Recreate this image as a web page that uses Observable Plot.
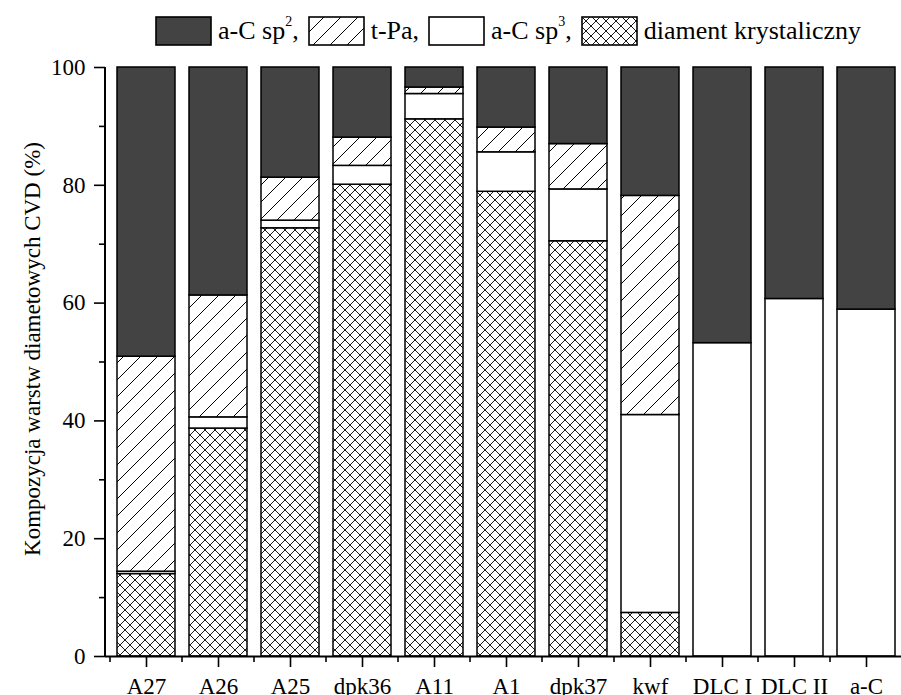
<!DOCTYPE html>
<html>
<head>
<meta charset="utf-8">
<script src="https://cdn.jsdelivr.net/npm/d3@7"></script>
<script src="https://cdn.jsdelivr.net/npm/@observablehq/plot@0.6"></script>
<style>
  html, body { margin: 0; padding: 0; background: #fff; overflow: hidden; }
  body { width: 901px; height: 695px; font-family: "Liberation Serif", "Times New Roman", serif; }
  #legend { height: 55px; display: flex; align-items: center; padding-left: 155px; padding-top: 6px; box-sizing: border-box; font-size: 26px; color: #000; white-space: nowrap; }
  #legend svg { display: block; }
  #legend .sw { margin-right: 6px; }
  #legend .lbl { margin-right: 9px; }
  #legend sup { font-size: 14px; vertical-align: 13px; line-height: 0; }
  #chart svg { display: block; overflow: visible; font-family: "Liberation Serif", "Times New Roman", serif !important; }
  #chart svg text { font-family: "Liberation Serif", "Times New Roman", serif; }
</style>
</head>
<body>
<svg width="0" height="0" style="position:absolute">
  <defs>
    <pattern id="hatch" patternUnits="userSpaceOnUse" width="17" height="17">
      <rect width="17" height="17" fill="#fff"></rect>
      <path d="M0,17L17,0M-3,3L3,-3M14,20L20,14" stroke="#000" stroke-width="1"></path>
    </pattern>
    <pattern id="cross" patternUnits="userSpaceOnUse" width="10" height="10">
      <rect width="10" height="10" fill="#fff"></rect>
      <path d="M0,0L10,10M10,0L0,10M-1,9L1,11M9,-1L11,1M-1,1L1,-1M9,11L11,9" stroke="#1a1a1a" stroke-width="1"></path>
    </pattern>
  </defs>
</svg>
<div id="legend"></div>
<div id="chart"></div>
<script>
// ---- data ----
const categories = ["A27", "A26", "A25", "dpk36", "A11", "A1", "dpk37", "kwf", "DLC I", "DLC II", "a-C"];
const diament = [14.0, 38.7, 72.7, 80.1, 91.2, 78.9, 70.5, 7.4, 0, 0, 0];
const sp3     = [0.4, 1.9, 1.3, 3.2, 4.3, 6.7, 8.8, 33.6, 53.2, 60.7, 58.9];
const tpa     = [36.5, 20.7, 7.3, 4.8, 1.1, 4.2, 7.7, 37.2, 0, 0, 0];
const sp2     = [49.1, 38.7, 18.7, 11.9, 3.4, 10.2, 13.0, 21.8, 46.8, 39.3, 41.1];
const seriesNames = ["diament krystaliczny", "a-C sp3", "t-Pa", "a-C sp2"];
const seriesFills = ["url(#cross)", "#ffffff", "url(#hatch)", "#434343"];
const yMajor = [0, 20, 40, 60, 80, 100];
const yMinor = [10, 30, 50, 70, 90];
const yLabel = "Kompozycja warstw diametowych CVD (%)";

const seriesValues = [diament, sp3, tpa, sp2];
const rows = [];
seriesNames.forEach((s, si) => {
  categories.forEach((c, ci) => {
    const v = seriesValues[si][ci];
    if (v > 0) rows.push({cat: c, series: s, value: v, fill: seriesFills[si]});
  });
});

// ---- legend ----
const legendItems = [
  {fill: "#434343", html: "a-C sp<sup>2</sup>,"},
  {fill: "url(#hatch)", html: "t-Pa,"},
  {fill: "#ffffff", html: "a-C sp<sup>3</sup>,"},
  {fill: "url(#cross)", html: "diament krystaliczny"}
];
const legend = document.getElementById("legend");
legendItems.forEach(it => {
  const sw = document.createElementNS("http://www.w3.org/2000/svg", "svg");
  sw.setAttribute("width", 57); sw.setAttribute("height", 30); sw.setAttribute("class", "sw");
  sw.innerHTML = `<rect x="1" y="1" width="55" height="28" fill="${it.fill}" stroke="#000" stroke-width="1.6"></rect>`;
  legend.appendChild(sw);
  const span = document.createElement("span");
  span.className = "lbl"; span.innerHTML = it.html;
  legend.appendChild(span);
});

// ---- chart ----
const font = "'Liberation Serif', 'Times New Roman', serif";
const plot = Plot.plot({
  width: 901,
  height: 640,
  marginTop: 12,
  marginBottom: 39,
  marginLeft: 105,
  marginRight: 0,
  style: {fontFamily: font, fontSize: "23px", color: "#000", background: "transparent"},
  x: {type: "band", domain: categories, range: [105, 907], paddingInner: 0.2, paddingOuter: 0.1, label: null},
  y: {domain: [0, 100], label: null},
  color: {type: "identity"},
  marks: [
    Plot.barY(rows, Plot.stackY({
      x: "cat", y: "value", z: "series", fill: "fill",
      order: seriesNames,
      stroke: "#000", strokeWidth: 1.5
    })),
    Plot.axisY({ticks: yMajor, tickSize: 11, tickPadding: 9, tickFormat: d => String(d), label: null, strokeWidth: 1.6, fontSize: 23, fontFamily: font}),
    Plot.axisY({ticks: yMinor, tickSize: 6, tickFormat: () => "", label: null, strokeWidth: 1.6}),
    Plot.axisX({tickSize: 11, tickPadding: 10, label: null, strokeWidth: 1.6, fontSize: 23, fontFamily: font}),
    Plot.ruleY([0], {stroke: "#000", strokeWidth: 2}),
    Plot.text([yLabel], {frameAnchor: "left", rotate: -90, dx: -73, dy: -13, fontSize: 23, fontFamily: font, textAnchor: "middle", lineAnchor: "middle", fill: "#000"})
  ]
});
document.getElementById("chart").appendChild(plot);

// axis line and minor x ticks, positioned from the plot's own scales
const sx = plot.scale("x"), sy = plot.scale("y");
const svg = d3.select(plot);
svg.style("font-family", font);
const x0 = sx.range[0];
svg.append("line").attr("x1", x0).attr("x2", x0).attr("y1", sy.apply(0)).attr("y2", sy.apply(100))
  .attr("stroke", "#000").attr("stroke-width", 2);
const gap = (sx.step - sx.bandwidth) / 2;
const bounds = categories.map(c => sx.apply(c) - gap);
bounds.push(sx.apply(categories[categories.length - 1]) + sx.bandwidth + gap);
svg.append("g").selectAll("line").data(bounds).join("line")
  .attr("x1", d => d).attr("x2", d => d)
  .attr("y1", sy.apply(0)).attr("y2", sy.apply(0) + 6)
  .attr("stroke", "#000").attr("stroke-width", 1.6);
</script>
</body>
</html>
